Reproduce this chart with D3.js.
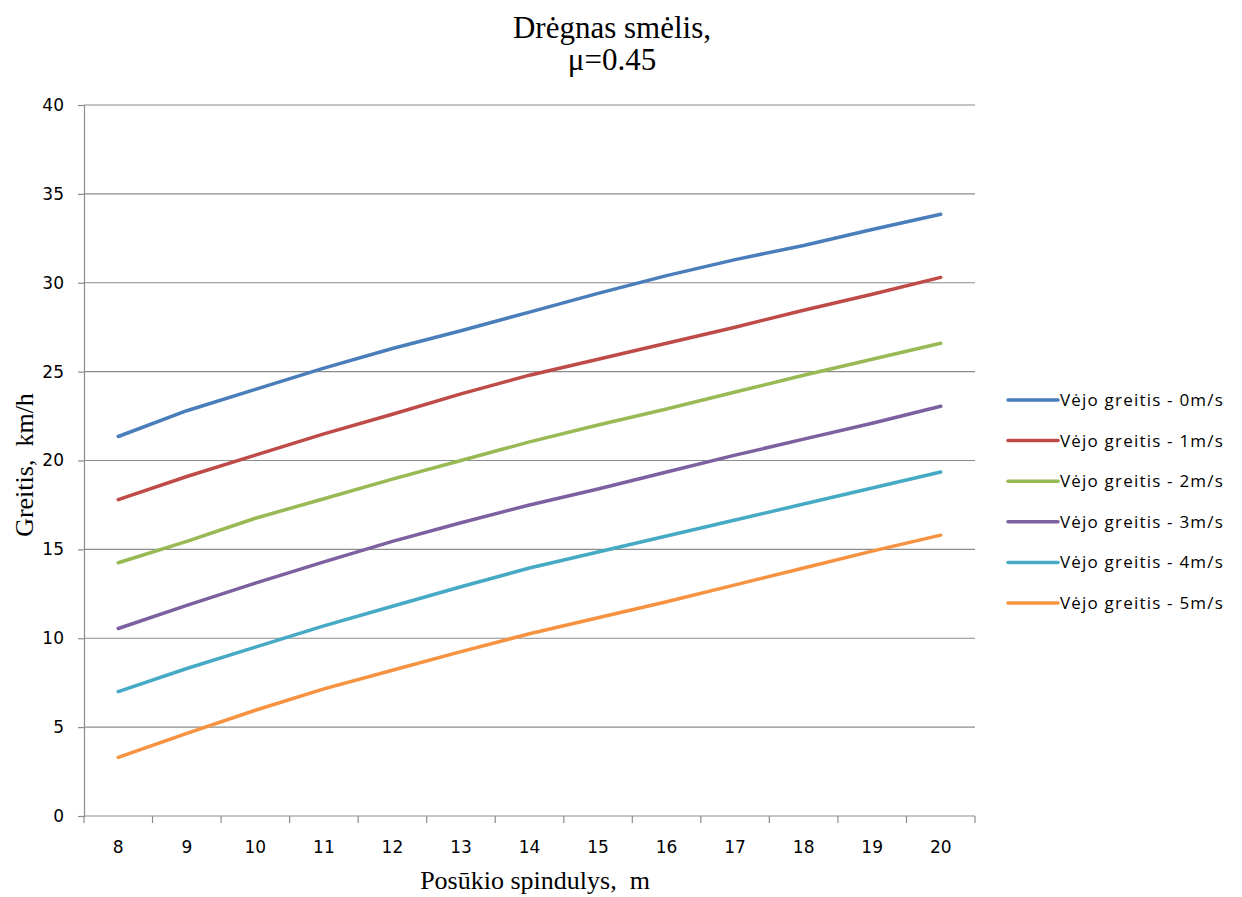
<!DOCTYPE html>
<html>
<head>
<meta charset="utf-8">
<script src="https://cdn.jsdelivr.net/npm/d3@7"></script>
<style>
  html, body { margin: 0; padding: 0; background: #fff; }
  svg { display: block; }
</style>
</head>
<body>
<svg id="chart" width="1242" height="897"></svg>
<script>
// Turning radius (m) along the category axis
const radii = [8, 9, 10, 11, 12, 13, 14, 15, 16, 17, 18, 19, 20];

// Speed (km/h) for each wind speed
const wind0 = [21.35, 22.8, 24.0, 25.2, 26.3, 27.3, 28.35, 29.4, 30.4, 31.3, 32.1, 33.0, 33.85];
const wind1 = [17.8, 19.1, 20.3, 21.5, 22.6, 23.75, 24.8, 25.7, 26.6, 27.5, 28.45, 29.35, 30.3];
const wind2 = [14.25, 15.45, 16.75, 17.85, 18.95, 20.0, 21.05, 22.0, 22.9, 23.85, 24.8, 25.7, 26.6];
const wind3 = [10.55, 11.85, 13.1, 14.3, 15.45, 16.5, 17.5, 18.4, 19.35, 20.3, 21.2, 22.1, 23.05];
const wind4 = [7.0, 8.3, 9.5, 10.7, 11.8, 12.9, 13.95, 14.85, 15.75, 16.65, 17.55, 18.45, 19.35];
const wind5 = [3.3, 4.65, 5.95, 7.15, 8.2, 9.25, 10.25, 11.15, 12.05, 13.0, 13.95, 14.9, 15.8];

const seriesNames = [
  "Vėjo greitis - 0m/s", "Vėjo greitis - 1m/s", "Vėjo greitis - 2m/s",
  "Vėjo greitis - 3m/s", "Vėjo greitis - 4m/s", "Vėjo greitis - 5m/s"
];
const seriesColors = ["#4A7EBB", "#BE4B48", "#98B954", "#7D60A0", "#46AAC5", "#F69240"];
const yTicks = [0, 5, 10, 15, 20, 25, 30, 35, 40];

const titleLines = ["Drėgnas smėlis,", "μ=0.45"];
const xTitle = "Posūkio spindulys,\u00A0\u00A0m";
const yTitle = "Greitis,\u00A0\u00A0km/h";

const series = [wind0, wind1, wind2, wind3, wind4, wind5].map((vals, i) => ({
  name: seriesNames[i], color: seriesColors[i], values: vals
}));

const svg = d3.select("#chart");
const plot = { left: 84, right: 975, top: 105, bottom: 816 };

const x = d3.scaleBand().domain(radii).range([plot.left, plot.right]).paddingInner(0).paddingOuter(0);
const y = d3.scaleLinear().domain([0, 40]).range([plot.bottom, plot.top]);

const serif = "'Liberation Serif', 'Times New Roman', serif";
const tickFont = "'DejaVu Sans', Verdana, sans-serif";
const axisGrey = "#8c8c8c";

// Horizontal gridlines
svg.append("g")
  .selectAll("line")
  .data(yTicks.filter(t => t > 0))
  .join("line")
  .attr("x1", plot.left).attr("x2", plot.right)
  .attr("y1", d => y(d)).attr("y2", d => y(d))
  .attr("stroke", axisGrey).attr("stroke-width", 1.2);

// Y axis
const yAxis = svg.append("g")
  .attr("transform", `translate(${plot.left},0)`)
  .call(d3.axisLeft(y).tickValues(yTicks).tickSize(6).tickPadding(14));
yAxis.select(".domain").attr("stroke", axisGrey).attr("stroke-width", 1.2);
yAxis.selectAll(".tick line").attr("stroke", axisGrey).attr("stroke-width", 1.2);
yAxis.selectAll(".tick text")
  .attr("font-family", tickFont).attr("font-size", 17).attr("fill", "#000");

// X axis: ticks sit on the band boundaries, labels at band centres
const xAxisG = svg.append("g").attr("transform", `translate(0,${plot.bottom})`);
xAxisG.append("line")
  .attr("x1", plot.left).attr("x2", plot.right).attr("y1", 0).attr("y2", 0)
  .attr("stroke", axisGrey).attr("stroke-width", 1.2);
const boundaries = radii.map(r => x(r)).concat([x(radii[radii.length - 1]) + x.bandwidth()]);
xAxisG.selectAll("line.tick")
  .data(boundaries)
  .join("line")
  .attr("class", "tick")
  .attr("x1", d => d).attr("x2", d => d)
  .attr("y1", 0).attr("y2", 7)
  .attr("stroke", axisGrey).attr("stroke-width", 1.2);
xAxisG.selectAll("text")
  .data(radii)
  .join("text")
  .attr("x", d => x(d) + x.bandwidth() / 2)
  .attr("y", 37)
  .attr("text-anchor", "middle")
  .attr("font-family", tickFont).attr("font-size", 17).attr("fill", "#000")
  .text(d => d);

// Series lines
const line = d3.line()
  .x((d, i) => x(radii[i]) + x.bandwidth() / 2)
  .y(d => y(d));

svg.append("g")
  .selectAll("path")
  .data(series)
  .join("path")
  .attr("d", d => line(d.values))
  .attr("fill", "none")
  .attr("stroke", d => d.color)
  .attr("stroke-width", 3.5)
  .attr("stroke-linecap", "round")
  .attr("stroke-linejoin", "round");

// Title
svg.append("text")
  .attr("text-anchor", "middle")
  .attr("font-family", serif).attr("font-size", 31).attr("fill", "#000")
  .selectAll("tspan")
  .data(titleLines)
  .join("tspan")
  .attr("x", 612)
  .attr("y", (d, i) => 38 + i * 32)
  .text(d => d);

// Axis titles
svg.append("text")
  .attr("x", 535).attr("y", 889)
  .attr("text-anchor", "middle")
  .attr("font-family", serif).attr("font-size", 26).attr("fill", "#000")
  .text(xTitle);

svg.append("text")
  .attr("transform", "translate(33,465) rotate(-90)")
  .attr("text-anchor", "middle")
  .attr("font-family", serif).attr("font-size", 26).attr("fill", "#000")
  .text(yTitle);

// Legend
const legend = svg.append("g").attr("transform", "translate(1008,400)");
const rows = legend.selectAll("g")
  .data(series)
  .join("g")
  .attr("transform", (d, i) => `translate(0,${i * 40.6})`);
rows.append("line")
  .attr("x1", 0).attr("x2", 50).attr("y1", 0).attr("y2", 0)
  .attr("stroke", d => d.color).attr("stroke-width", 3.5)
  .attr("stroke-linecap", "round");
rows.append("text")
  .attr("x", 52).attr("y", 6)
  .attr("font-family", "'Open Sans', 'Noto Sans', sans-serif")
  .attr("font-size", 17).attr("letter-spacing", 1.2).attr("fill", "#000")
  .text(d => d.name);
</script>
</body>
</html>
